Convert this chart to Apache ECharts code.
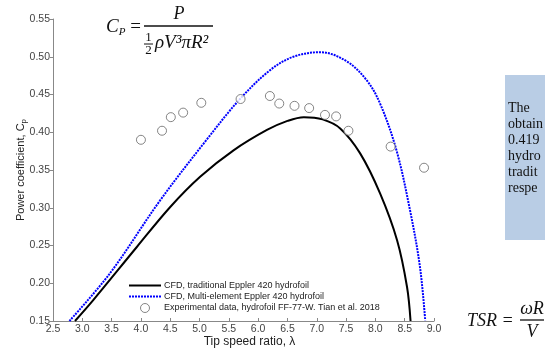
<!DOCTYPE html>
<html><head><meta charset="utf-8">
<script src="https://cdn.jsdelivr.net/npm/echarts@6/dist/echarts.min.js"></script>
<style>html,body{margin:0;padding:0;background:#fff}#c{width:545px;height:351px}</style>
</head><body><div id="c"></div>
<script>
var xTicks = [2.5,3.0,3.5,4.0,4.5,5.0,5.5,6.0,6.5,7.0,7.5,8.0,8.5,9.0];
var yTicks = [0.15,0.20,0.25,0.30,0.35,0.40,0.45,0.50,0.55];
var traditionalCurve = [[2.875,0.15],[3.19,0.178],[3.93,0.248],[4.5,0.301],[5.01,0.341],[5.58,0.376],[6.15,0.403],[6.5,0.415],[6.78,0.420],[7.1,0.417],[7.4,0.405],[7.74,0.372],[8.08,0.319],[8.37,0.257],[8.54,0.195],[8.60,0.15]];
var multiCurve = [[2.78,0.15],[3.47,0.213],[4.33,0.31],[5.12,0.39],[5.69,0.444],[6.2,0.482],[6.6,0.500],[7.06,0.506],[7.51,0.494],[7.85,0.469],[8.08,0.438],[8.36,0.376],[8.59,0.297],[8.76,0.222],[8.85,0.151]];
var expData = [[4.0,0.390],[4.36,0.402],[4.51,0.420],[4.72,0.426],[5.03,0.439],[5.70,0.444],[6.20,0.448],[6.36,0.438],[6.62,0.435],[6.87,0.432],[7.14,0.423],[7.33,0.421],[7.54,0.402],[8.26,0.381],[8.83,0.353]];
var seriesNames = ['CFD, traditional Eppler 420 hydrofoil','CFD, Multi-element Eppler 420 hydrofoil','Experimental data, hydrofoil FF-77-W. Tian et al. 2018'];
var boxLines = ['The','obtain','0.419','hydro','tradit','respe'];

var chart = echarts.init(document.getElementById('c'));
var serif = '"Liberation Serif","DejaVu Serif",serif';
var graphics = [
  {type:'rect',shape:{x:505,y:75,width:45,height:165},style:{fill:'#b9cde5'},z:10}
];
boxLines.forEach(function(t,i){
  graphics.push({type:'text',x:508,y:108+i*16,style:{text:t,fill:'#111',font:'14px '+serif,verticalAlign:'middle'},z:11});
});
// Cp formula
graphics.push({type:'text',x:106,y:27,style:{text:'{i|C}{s|P} =',rich:{i:{font:'italic 19px '+serif,fill:'#111'},s:{font:'italic 11px '+serif,fill:'#111',verticalAlign:'bottom',padding:[10,0,0,0]}},fill:'#111',font:'19px '+serif,verticalAlign:'middle'},z:11});
graphics.push({type:'line',shape:{x1:144,y1:26,x2:213,y2:26},style:{stroke:'#111',lineWidth:1.5},z:11});
graphics.push({type:'text',x:179,y:14,style:{text:'P',font:'italic 18px '+serif,fill:'#111',align:'center',verticalAlign:'middle'},z:11});
graphics.push({type:'text',x:148.5,y:37.5,style:{text:'1',font:'13px '+serif,fill:'#111',align:'center',verticalAlign:'middle'},z:11});
graphics.push({type:'line',shape:{x1:144,y1:44,x2:153,y2:44},style:{stroke:'#111',lineWidth:1},z:11});
graphics.push({type:'text',x:148.5,y:51,style:{text:'2',font:'13px '+serif,fill:'#111',align:'center',verticalAlign:'middle'},z:11});
graphics.push({type:'text',x:155,y:43,style:{text:'ρV³πR²',font:'italic 19px '+serif,fill:'#111',verticalAlign:'middle'},z:11});
// TSR formula
graphics.push({type:'text',x:467,y:321,style:{text:'TSR =',font:'italic 18px '+serif,fill:'#111',verticalAlign:'middle'},z:11});
graphics.push({type:'line',shape:{x1:520,y1:320,x2:544,y2:320},style:{stroke:'#111',lineWidth:1.3},z:11});
graphics.push({type:'text',x:532,y:309,style:{text:'ωR',font:'italic 18px '+serif,fill:'#111',align:'center',verticalAlign:'middle'},z:11});
graphics.push({type:'text',x:532,y:332,style:{text:'V',font:'italic 18px '+serif,fill:'#111',align:'center',verticalAlign:'middle'},z:11});

chart.setOption({
  animation:false,
  grid:{left:53,right:111,top:19,bottom:30,containLabel:false,outerBoundsMode:'none'},
  xAxis:{type:'value',min:2.5,max:9.0,interval:0.5,
    name:'Tip speed ratio, λ',nameLocation:'middle',nameGap:15,nameMoveOverlap:false,
    nameTextStyle:{fontFamily:'Liberation Sans, Arial',fontSize:12,color:'#222',padding:[0,0,0,12]},
    axisLine:{lineStyle:{color:'#888',width:1}},
    axisTick:{inside:true,length:3,lineStyle:{color:'#888'}},
    axisLabel:{margin:3,fontFamily:'Liberation Sans, Arial',fontSize:10.5,color:'#444',formatter:function(v){return v.toFixed(1);}},
    splitLine:{show:false}},
  yAxis:{type:'value',min:0.15,max:0.55,interval:0.05,
    name:'Power coefficient, C{s|p}',nameLocation:'middle',nameGap:25,nameMoveOverlap:false,
    nameTextStyle:{fontFamily:'Liberation Sans, Arial',fontSize:11,color:'#222',rich:{s:{fontSize:8,fontFamily:'Liberation Sans, Arial',color:'#222',padding:[6,0,0,0]}}},
    axisLine:{show:true,lineStyle:{color:'#888',width:1}},
    axisTick:{show:true,inside:false,length:3,lineStyle:{color:'#888'}},
    axisLabel:{margin:3,fontFamily:'Liberation Sans, Arial',fontSize:10.5,color:'#444',formatter:function(v){return v.toFixed(2);}},
    splitLine:{show:false}},
  legend:{orient:'vertical',left:123,top:276,itemWidth:32,itemHeight:9,itemGap:2,
    textStyle:{fontFamily:'Liberation Sans, Arial',fontSize:9,color:'#222',padding:[0,0,0,-2]},
    data:[{name:seriesNames[0],itemStyle:{opacity:0}},{name:seriesNames[1],itemStyle:{opacity:0}},{name:seriesNames[2],icon:'circle',itemStyle:{color:'#fff',borderColor:'#666',borderWidth:1}}]},
  series:[
    {name:seriesNames[0],type:'line',data:traditionalCurve,smooth:0.35,symbol:'none',
      lineStyle:{color:'#000',width:2},itemStyle:{color:'#000'}},
    {name:seriesNames[1],type:'line',data:multiCurve,smooth:0.35,symbol:'none',
      lineStyle:{color:'#0000ff',width:2,type:[2,1]},itemStyle:{color:'#0000ff'}},
    {name:seriesNames[2],type:'scatter',data:expData,symbol:'circle',symbolSize:9,z:5,
      itemStyle:{color:'#fff',borderColor:'#666',borderWidth:1}}
  ],
  graphic:graphics
});
</script></body></html>
